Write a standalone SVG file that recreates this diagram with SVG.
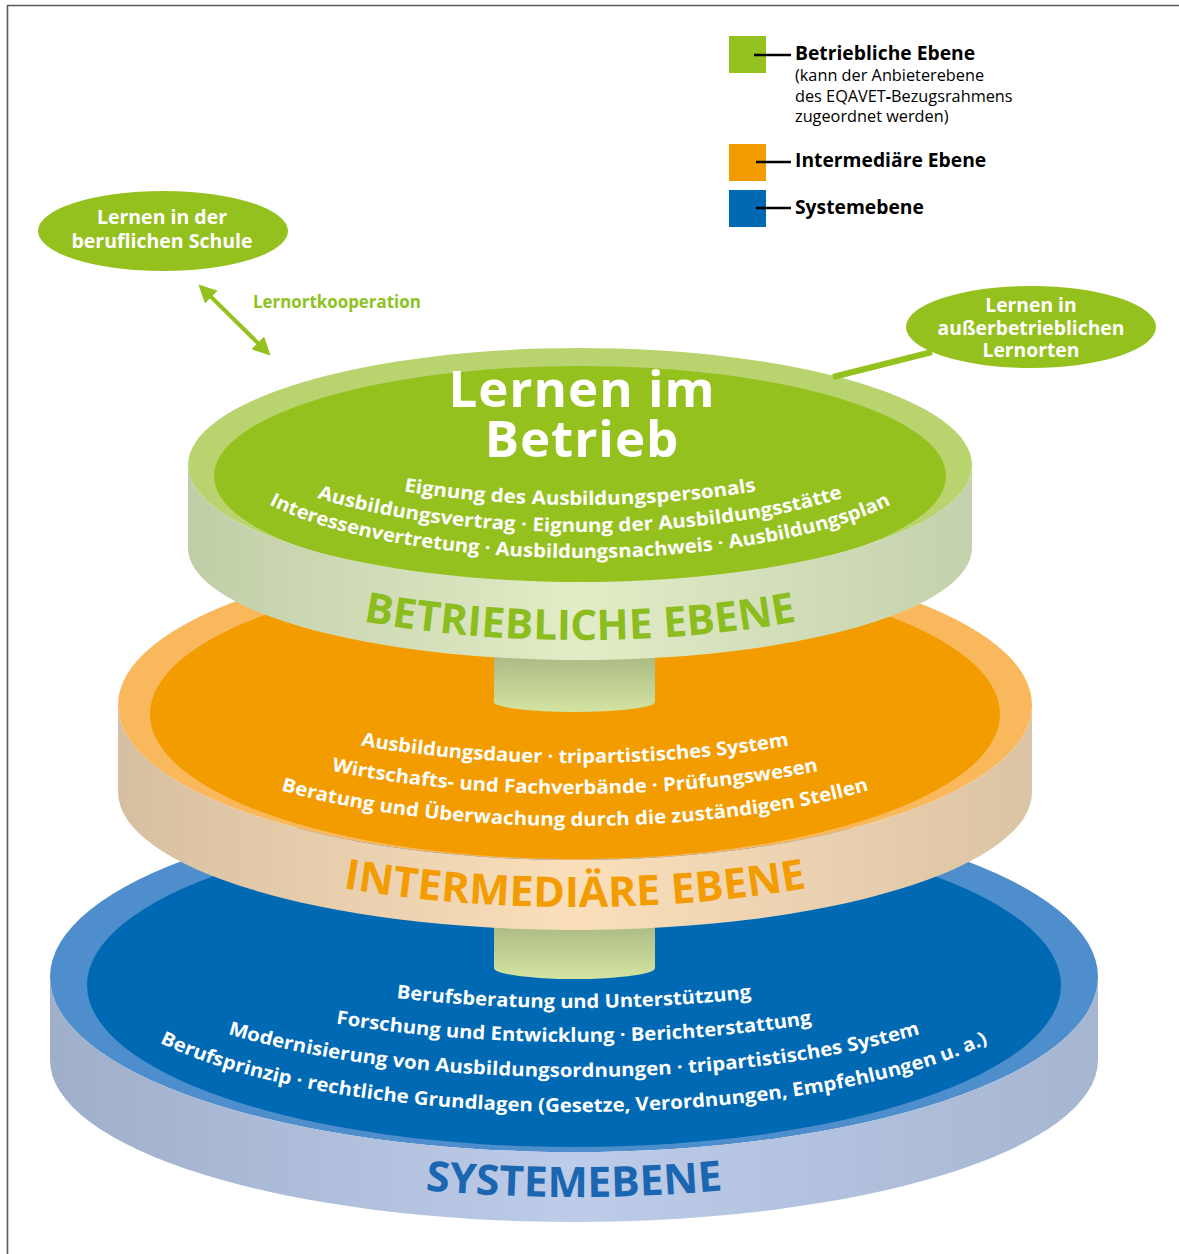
<svg xmlns="http://www.w3.org/2000/svg" xmlns:xlink="http://www.w3.org/1999/xlink" width="1179" height="1254" viewBox="0 0 1179 1254">
<style>
text{font-family:"Open Sans","Noto Sans","DejaVu Sans",sans-serif;}
.wt{fill:#fff;font-weight:700;}
.leg{fill:#000;}
.b{font-weight:700;}
.cur{fill:#fff;font-weight:700;font-size:19px;}
.ttl{font-weight:700;font-size:42px;}
</style>
<defs>
<linearGradient id="gWall" x1="0" x2="1" y1="0" y2="0">
<stop offset="0" stop-color="#c0cea8"/><stop offset="0.5" stop-color="#e2ecc7"/><stop offset="1" stop-color="#c4d1ad"/>
</linearGradient>
<linearGradient id="oWall" x1="0" x2="1" y1="0" y2="0">
<stop offset="0" stop-color="#d6bfa0"/><stop offset="0.5" stop-color="#fbdfbb"/><stop offset="1" stop-color="#dbc4a4"/>
</linearGradient>
<linearGradient id="bWall" x1="0" x2="1" y1="0" y2="0">
<stop offset="0" stop-color="#9fafca"/><stop offset="0.5" stop-color="#bdcce9"/><stop offset="1" stop-color="#a6b5d0"/>
</linearGradient>
<linearGradient id="stem" x1="0" x2="0" y1="0" y2="1">
<stop offset="0" stop-color="#98a777"/><stop offset="1" stop-color="#d3e4a1"/>
</linearGradient>
<marker id="ah" viewBox="0 0 10 10" refX="8" refY="5" markerWidth="4.5" markerHeight="4.5" orient="auto-start-reverse" markerUnits="strokeWidth">
<path d="M0,0 L10,5 L0,10 z" fill="#95c11f"/>
</marker>
<path id="gA1" d="M220,397 A360,108 0 0 0 940,397"/>
<path id="gA2" d="M220,424 A360,108 0 0 0 940,424"/>
<path id="gA3" d="M220,450 A360,108 0 0 0 940,450"/>
<path id="gT" d="M188,528 A392,112 0 0 0 972,528"/>
<path id="oA1" d="M155,638 A420,125 0 0 0 995,638"/>
<path id="oA2" d="M155,669 A420,125 0 0 0 995,669"/>
<path id="oA3" d="M155,701 A420,125 0 0 0 995,701"/>
<path id="oT" d="M118,769 A457,138 0 0 0 1032,769"/>
<path id="bA1" d="M94,868 A480,140 0 0 0 1054,868"/>
<path id="bA2" d="M94,902 A480,140 0 0 0 1054,902"/>
<path id="bA3" d="M94,937 A480,140 0 0 0 1054,937"/>
<path id="bA4" d="M94,972 A480,140 0 0 0 1054,972"/>
<path id="bT" d="M50,1035 A524,162 0 0 0 1098,1035"/>
</defs>

<rect width="1179" height="1254" fill="#fff"/>
<path d="M7.5,1254 V5.5 H1179" fill="none" stroke="#5a5a5a" stroke-width="1.6"/>

<g id="disk-system">
<ellipse cx="574" cy="977" rx="524" ry="175" fill="#4f8ecc"/>
<ellipse cx="574" cy="985" rx="487" ry="162" fill="#0069b4"/>
<path d="M50,977 A524,175 0 0 0 1098,977 L1098,1060 A524,162 0 0 1 50,1060 Z" fill="url(#bWall)"/>
<text class="cur"><textPath xlink:href="#bA1" startOffset="50%" text-anchor="middle" textLength="356" lengthAdjust="spacingAndGlyphs">Berufsberatung und Unterstützung</textPath><textPath xlink:href="#bA2" startOffset="50%" text-anchor="middle" textLength="478" lengthAdjust="spacingAndGlyphs">Forschung und Entwicklung · Berichterstattung</textPath><textPath xlink:href="#bA3" startOffset="50%" text-anchor="middle" textLength="700" lengthAdjust="spacingAndGlyphs">Modernisierung von Ausbildungsordnungen · tripartistisches System</textPath><textPath xlink:href="#bA4" startOffset="50%" text-anchor="middle" textLength="846" lengthAdjust="spacingAndGlyphs">Berufsprinzip · rechtliche Grundlagen (Gesetze, Verordnungen, Empfehlungen u. a.)</textPath></text>
<text class="ttl" fill="#1a66b0" font-size="44"><textPath xlink:href="#bT" startOffset="50%" text-anchor="middle" textLength="298" lengthAdjust="spacingAndGlyphs">SYSTEMEBENE</textPath></text>
</g>

<g id="stem-lower">
<path d="M494,900 L655,900 L655,968 A80.5,11 0 0 1 494,968 Z" fill="url(#stem)"/>
</g>

<g id="disk-intermediaer">
<ellipse cx="575" cy="705" rx="457" ry="155" fill="#fab85c"/>
<ellipse cx="575" cy="714" rx="425" ry="145" fill="#f39c00"/>
<path d="M118,705 A457,155 0 0 0 1032,705 L1032,792 A457,138 0 0 1 118,792 Z" fill="url(#oWall)"/>
<text class="cur"><textPath xlink:href="#oA1" startOffset="50%" text-anchor="middle" textLength="430" lengthAdjust="spacingAndGlyphs">Ausbildungsdauer · tripartistisches System</textPath><textPath xlink:href="#oA2" startOffset="50%" text-anchor="middle" textLength="490" lengthAdjust="spacingAndGlyphs">Wirtschafts- und Fachverbände · Prüfungswesen</textPath><textPath xlink:href="#oA3" startOffset="50%" text-anchor="middle" textLength="594" lengthAdjust="spacingAndGlyphs">Beratung und Überwachung durch die zuständigen Stellen</textPath></text>
<text class="ttl" fill="#f39c00"><textPath xlink:href="#oT" startOffset="50%" text-anchor="middle" textLength="466" lengthAdjust="spacingAndGlyphs">INTERMEDIÄRE EBENE</textPath></text>
</g>

<g id="stem-upper">
<path d="M494,630 L655,630 L655,702 A80.5,10 0 0 1 494,702 Z" fill="url(#stem)"/>
</g>

<g id="disk-betrieb">
<ellipse cx="580" cy="465" rx="392" ry="117" fill="#b9d46e"/>
<ellipse cx="580" cy="476" rx="366" ry="110" fill="#95c11f"/>
<path d="M188,465 A392,117 0 0 0 972,465 L972,548 A392,112 0 0 1 188,548 Z" fill="url(#gWall)"/>
<text class="wt" font-size="51" text-anchor="middle" letter-spacing="1"><tspan x="582" y="407">Lernen im</tspan><tspan x="582" y="457">Betrieb</tspan></text>
<text class="cur"><textPath xlink:href="#gA1" startOffset="50%" text-anchor="middle" textLength="354" lengthAdjust="spacingAndGlyphs">Eignung des Ausbildungspersonals</textPath><textPath xlink:href="#gA2" startOffset="50%" text-anchor="middle" textLength="532" lengthAdjust="spacingAndGlyphs">Ausbildungsvertrag · Eignung der Ausbildungsstätte</textPath><textPath xlink:href="#gA3" startOffset="50%" text-anchor="middle" textLength="636" lengthAdjust="spacingAndGlyphs">Interessenvertretung · Ausbildungsnachweis · Ausbildungsplan</textPath></text>
<text class="ttl" fill="#8cbd1e"><textPath xlink:href="#gT" startOffset="50%" text-anchor="middle" textLength="436" lengthAdjust="spacingAndGlyphs">BETRIEBLICHE EBENE</textPath></text>
</g>

<g id="connectors">
<line x1="201" y1="287" x2="268" y2="353" stroke="#95c11f" stroke-width="4" marker-start="url(#ah)" marker-end="url(#ah)"/>
<line x1="932" y1="352" x2="833" y2="377" stroke="#95c11f" stroke-width="6"/>
<text x="253" y="308" font-size="16.9" class="b" fill="#8dc21f">Lernortkooperation</text>
</g>

<g id="node-schule">
<ellipse cx="163" cy="231" rx="125" ry="40" fill="#95c11f"/>
<text class="wt" font-size="19.5" text-anchor="middle"><tspan x="162" y="224">Lernen in der</tspan><tspan x="162" y="248">beruflichen Schule</tspan></text>
</g>

<g id="node-ausserbetrieblich">
<ellipse cx="1031" cy="327" rx="125" ry="41" fill="#95c11f"/>
<text class="wt" font-size="19.3" text-anchor="middle"><tspan x="1031" y="312">Lernen in</tspan><tspan x="1031" y="335">außerbetrieblichen</tspan><tspan x="1031" y="357">Lernorten</tspan></text>
</g>

<g id="legend">
<rect x="729" y="36" width="37" height="37" fill="#95c11f"/>
<rect x="729" y="144" width="37" height="37" fill="#f39c00"/>
<rect x="729" y="190" width="37" height="37" fill="#0069b4"/>
<line x1="754" y1="55" x2="791" y2="55" stroke="#000" stroke-width="2.5"/>
<line x1="756" y1="162" x2="791" y2="162" stroke="#000" stroke-width="2.5"/>
<line x1="756" y1="208" x2="791" y2="208" stroke="#000" stroke-width="2.5"/>
<text class="leg"><tspan class="b" x="795" y="60" font-size="19.3">Betriebliche Ebene</tspan><tspan x="795" y="81" font-size="16.3">(kann der Anbieterebene</tspan><tspan x="795" y="102" font-size="16.3">des EQAVET<tspan class="b">-</tspan>Bezugsrahmens</tspan><tspan x="795" y="122" font-size="16.3">zugeordnet werden)</tspan></text>
<text class="leg b" x="795" y="167" font-size="19.3">Intermediäre Ebene</text>
<text class="leg b" x="795" y="214" font-size="19.3">Systemebene</text>
</g>
</svg>
